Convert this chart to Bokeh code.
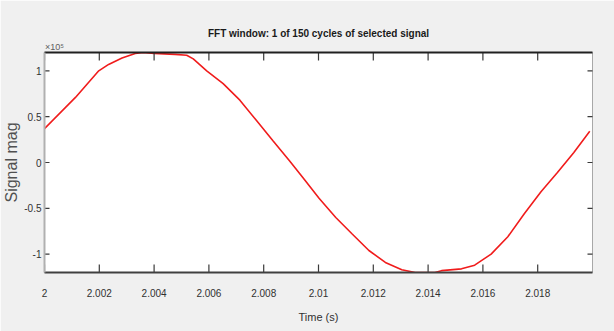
from bokeh.plotting import figure
from bokeh.models import LinearAxis, FixedTicker, Range1d
from bokeh.embed import file_html
from bokeh.resources import INLINE

# One 50 Hz cycle of the selected signal (magnitude in units of 1e5)
time_s = [2.0000, 2.00113, 2.00198, 2.00234, 2.00283, 2.00331, 2.00360, 2.00400,
          2.00476, 2.00519, 2.00543, 2.00592, 2.00652, 2.00713, 2.00773, 2.00833,
          2.00894, 2.00942, 2.01002, 2.01063, 2.01123, 2.01184, 2.01244, 2.01304,
          2.01353, 2.01425, 2.01449, 2.01522, 2.01570, 2.01630, 2.01691, 2.01751,
          2.01812, 2.01872, 2.01932, 2.01990]
signal_mag_e5 = [0.37, 0.71, 1.00, 1.07, 1.14, 1.19, 1.20, 1.19,
                 1.18, 1.17, 1.13, 1.00, 0.86, 0.68, 0.46, 0.24,
                 0.02, -0.16, -0.39, -0.60, -0.78, -0.96, -1.09, -1.17,
                 -1.20, -1.20, -1.18, -1.16, -1.12, -1.00, -0.81, -0.56,
                 -0.32, -0.11, 0.11, 0.34]

time_ticks = [2.0, 2.002, 2.004, 2.006, 2.008, 2.01, 2.012, 2.014, 2.016, 2.018]
time_tick_labels = ["2", "2.002", "2.004", "2.006", "2.008", "2.01", "2.012", "2.014", "2.016", "2.018"]
mag_ticks = [-1, -0.5, 0, 0.5, 1]
mag_tick_labels = ["-1", "-0.5", "0", "0.5", "1"]
exponent_label = "\u00d710\u2075"

X0, X1 = 2.0, 2.02
Y0, Y1 = -1.2, 1.2
W, H = 614, 331
BL, BR, BT, BB = 40, 22, 52, 59
FW, FH = W - BL - BR, H - BT - BB

BG = "#f0f0f0"
FONT = "Liberation Sans"
TICK_COLOR = "#3a3a3a"

p = figure(
    width=W, height=H,
    min_border_left=BL, min_border_right=BR, min_border_top=BT, min_border_bottom=BB,
    x_range=Range1d(X0, X1), y_range=Range1d(Y0, Y1),
    output_backend="svg", toolbar_location=None,
    background_fill_color="white", border_fill_color=BG,
    x_axis_location=None, y_axis_location=None,
)
p.grid.visible = False
p.outline_line_color = "#a8a8a8"

p.title.text = "FFT window: 1 of 150 cycles of selected signal"
p.title.align = "center"
p.title.text_font = FONT
p.title.text_font_size = "10px"
p.title.text_font_style = "bold"
p.title.text_color = "#1a1a1a"
p.title.standoff = 0

# Signal trace
p.line(time_s, signal_mag_e5, line_color="#f01c1c", line_width=1.6)

# Inward tick marks: thin bars centred on the box edges, half of each inside the frame
nt, nm = len(time_ticks), len(mag_ticks)
for edge in (Y0, Y1):
    p.rect(x=time_ticks, y=[edge] * nt, width=1.2, height=16,
           width_units="screen", height_units="screen",
           fill_color=TICK_COLOR, line_color=None)
for edge in (X0, X1):
    p.rect(x=[edge] * nm, y=mag_ticks, width=10, height=1.2,
           width_units="screen", height_units="screen",
           fill_color=TICK_COLOR, line_color=None)

# Bottom axis with labels
xb = LinearAxis(ticker=FixedTicker(ticks=time_ticks, minor_ticks=[]))
xb.major_label_overrides = {t: s for t, s in zip(time_ticks, time_tick_labels)}
xb.major_tick_in = 0
xb.major_tick_out = 0
xb.minor_tick_out = 0
xb.axis_line_color = "#404040"
xb.axis_line_width = 2
xb.major_label_text_font = FONT
xb.major_label_text_font_size = "10px"
xb.major_label_text_color = "#303030"
xb.major_label_standoff = 16
xb.axis_label = "Time (s)"
xb.axis_label_text_font = FONT
xb.axis_label_text_font_size = "11px"
xb.axis_label_text_font_style = "normal"
xb.axis_label_text_color = "#303030"
xb.axis_label_standoff = 11
p.add_layout(xb, "below")

# Left axis with labels
yl = LinearAxis(ticker=FixedTicker(ticks=mag_ticks, minor_ticks=[]))
yl.major_label_overrides = {t: s for t, s in zip(mag_ticks, mag_tick_labels)}
yl.major_tick_in = 0
yl.major_tick_out = 0
yl.minor_tick_out = 0
yl.axis_line_color = "#b0b0b0"
yl.axis_line_width = 2
yl.major_label_text_font = FONT
yl.major_label_text_font_size = "10px"
yl.major_label_text_color = "#303030"
yl.major_label_standoff = 3
yl.axis_label = "Signal mag"
yl.axis_label_text_font = FONT
yl.axis_label_text_font_size = "16px"
yl.axis_label_text_font_style = "normal"
yl.axis_label_text_color = "#505050"
yl.axis_label_standoff = 1
p.add_layout(yl, "left")

# Dark top edge of the box, carrying the exponent marker near its left end
exp_x = X0 + 10 * (X1 - X0) / FW
xt = LinearAxis(ticker=FixedTicker(ticks=[exp_x], minor_ticks=[]))
xt.major_label_overrides = {exp_x: exponent_label}
xt.major_tick_in = 0
xt.major_tick_out = 0
xt.minor_tick_out = 0
xt.axis_line_color = "#202020"
xt.axis_line_width = 2
xt.major_label_text_font = FONT
xt.major_label_text_font_size = "9px"
xt.major_label_text_color = "#606060"
xt.major_label_standoff = 1
p.add_layout(xt, "above")

open("out.html", "w").write(file_html(p, INLINE))
